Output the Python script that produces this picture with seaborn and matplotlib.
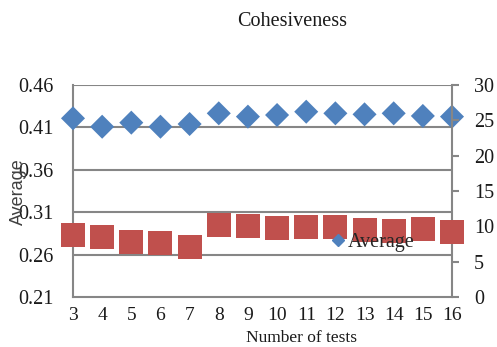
import matplotlib
matplotlib.use("Agg")
import matplotlib.pyplot as plt
from matplotlib.lines import Line2D
import seaborn as sns
import pandas as pd

tests = [3, 4, 5, 6, 7, 8, 9, 10, 11, 12, 13, 14, 15, 16]
average = [0.4207, 0.4108, 0.4156, 0.4108, 0.4140, 0.4266, 0.4227,
           0.4246, 0.4285, 0.4266, 0.4254, 0.4266, 0.4235, 0.4227]
second = [8.77, 8.45, 7.83, 7.60, 7.12, 10.19, 10.05,
          9.72, 9.86, 9.86, 9.48, 9.38, 9.58, 9.24]
left_ticks = [0.21, 0.26, 0.31, 0.36, 0.41, 0.46]
right_ticks = [0, 5, 10, 15, 20, 25, 30]

df = pd.DataFrame({"tests": tests, "average": average, "second": second})

sns.set_theme(style="white")
plt.rcParams["font.family"] = ["Liberation Serif", "DejaVu Serif"]

BLUE = "#4F81BD"
RED = "#C0504D"
GRID = "#868686"
TXT = "#1a1a1a"
FS = 14.5

fig = plt.figure(figsize=(4.97, 3.47), dpi=100)
ax = fig.add_axes([73 / 497, 1 - 297 / 347, (452 - 73) / 497, (297 - 85) / 347])
ax2 = ax.twinx()

sns.scatterplot(data=df, x="tests", y="average", ax=ax, marker="D", s=150,
                color=BLUE, edgecolor="none", clip_on=False, zorder=5, legend=False)
sns.scatterplot(data=df, x="tests", y="second", ax=ax2, marker="s", s=300,
                color=RED, edgecolor="none", clip_on=False, zorder=5, legend=False)

ax.set_xlim(3, 16)
ax.set_ylim(0.21, 0.46)
ax2.set_ylim(0, 30)
ax.set_xticks(tests)
ax.set_xticklabels([str(t) for t in tests])
ax.set_yticks(left_ticks)
ax.set_yticklabels([f"{t:.2f}" for t in left_ticks])
ax2.set_yticks(right_ticks)

for t in left_ticks[1:]:
    ax.axhline(t, color=GRID, lw=1.5, zorder=1)

for a in (ax, ax2):
    for s in a.spines.values():
        s.set_visible(False)
for a, side in ((ax, "left"), (ax, "bottom"), (ax2, "right")):
    a.spines[side].set_visible(True)
    a.spines[side].set_color(GRID)
    a.spines[side].set_linewidth(1.5)

ax.tick_params(axis="y", length=0, pad=14, labelsize=FS, colors=TXT)
ax.tick_params(axis="x", length=0, pad=7, labelsize=14, colors=TXT)
ax2.tick_params(axis="y", right=True, length=5, width=1.5, color=GRID,
                pad=11, labelsize=FS, labelcolor=TXT)
ax.set_xlabel("")
ax.set_ylabel("")
ax2.set_ylabel("")
ax2.set_zorder(ax.get_zorder() + 1)
ax2.patch.set_visible(False)

fig.text(292 / 497, 1 - 22 / 347, "Cohesiveness", ha="center", va="center",
         fontsize=FS, color=TXT)
fig.text(302 / 497, 1 / 347, "Number of tests", ha="center", va="bottom",
         fontsize=12.5, color=TXT)
fig.text(18 / 497, 1 - 192 / 347, "Average", ha="center", va="center",
         rotation=90, fontsize=13, color="#404040", family=["Liberation Sans"])

handle = Line2D([], [], marker="D", color=BLUE, linestyle="none", markersize=6)
ax2.legend([handle], ["Average"], loc="center left",
           bbox_to_anchor=(321 / 497, 1 - 242 / 347), bbox_transform=fig.transFigure,
           frameon=False, handletextpad=0.15, handlelength=0.7, borderpad=0,
           fontsize=FS)

fig.savefig("out.png", dpi=100)
